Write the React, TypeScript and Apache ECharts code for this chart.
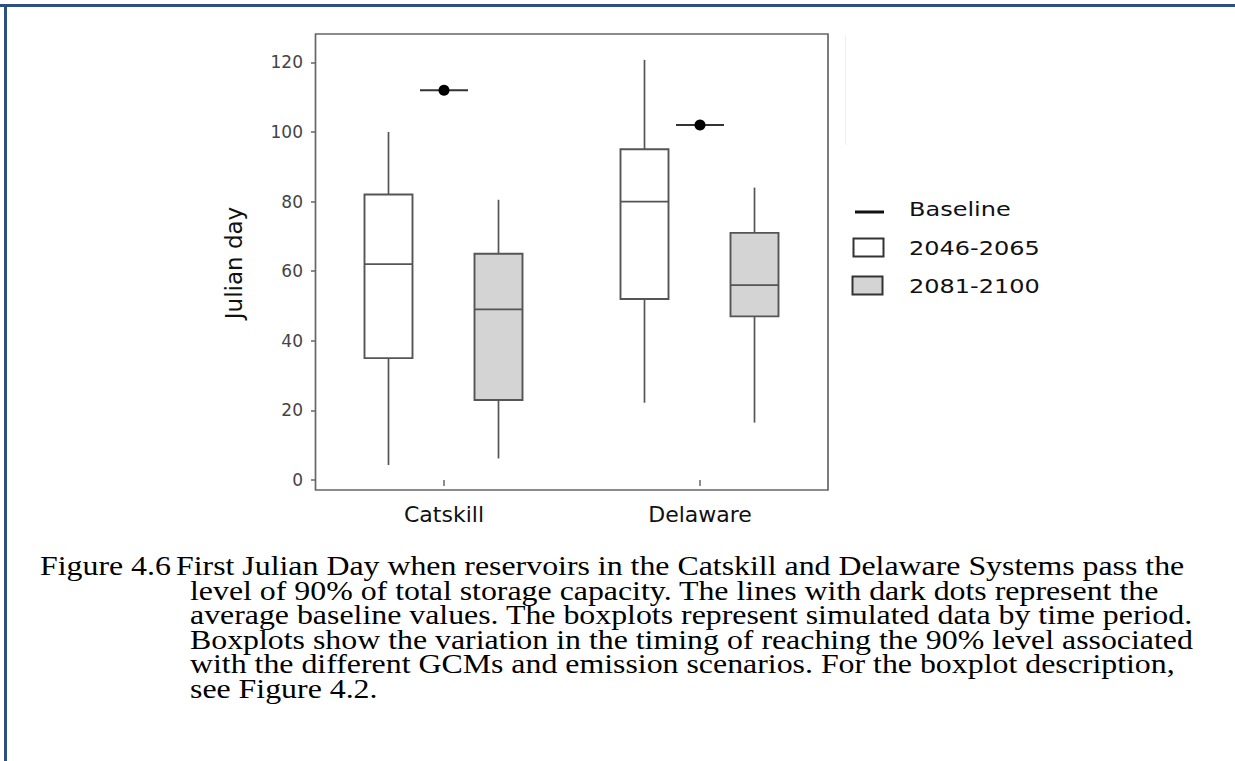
import React, { useEffect, useRef } from "react";
import * as echarts from "echarts";

const categories = ["Catskill", "Delaware"];
const yMin = 0;
const yMax = 120;
const yInterval = 20;
// [min, Q1, median, Q3, max]
const box2046 = [
  [4.3, 35, 62, 82, 100],
  [22.2, 52, 80, 95, 120.7],
];
const box2081 = [
  [6.2, 23, 49, 65, 80.5],
  [16.5, 47, 56, 71, 84],
];
const baselineValues = [112, 102];
const legendNames = ["Baseline", "2046-2065", "2081-2100"];
const yAxisTitle = "Julian day";
const captionLabel = "Figure 4.6";
const captionLines = [
  "First Julian Day when reservoirs in the Catskill and Delaware Systems pass the",
  "level of 90% of total storage capacity. The lines with dark dots represent the",
  "average baseline values. The boxplots represent simulated data by time period.",
  "Boxplots show the variation in the timing of reaching the 90% level associated",
  "with the different GCMs and emission scenarios. For the boxplot description,",
  "see Figure 4.2.",
];

const BOX_STROKE = "#555";
const GRAY_FILL = "#d4d4d4";

function makeBoxRender(offset: number, fill: string) {
  return (_params: any, api: any) => {
    const c = api.value(0);
    const x = api.coord([c, 0])[0] + offset;
    const ys = [1, 2, 3, 4, 5].map((i) => api.coord([c, api.value(i)])[1]);
    const [yLo, yQ1, yMed, yQ3, yHi] = ys;
    const hw = 24;
    const ls = { stroke: BOX_STROKE, lineWidth: 1.7 };
    return {
      type: "group",
      children: [
        { type: "line", shape: { x1: x, y1: yHi, x2: x, y2: yQ3 }, style: ls },
        { type: "line", shape: { x1: x, y1: yQ1, x2: x, y2: yLo }, style: ls },
        {
          type: "rect",
          shape: { x: x - hw, y: yQ3, width: 2 * hw, height: yQ1 - yQ3 },
          style: { fill, stroke: BOX_STROKE, lineWidth: 1.9 },
        },
        { type: "line", shape: { x1: x - hw, y1: yMed, x2: x + hw, y2: yMed }, style: ls },
      ],
    };
  };
}

function baselineRender(_params: any, api: any) {
  const c = api.value(0);
  const [x, y] = api.coord([c, api.value(1)]);
  return {
    type: "group",
    children: [
      { type: "line", shape: { x1: x - 24, y1: y, x2: x + 24, y2: y }, style: { stroke: "#333", lineWidth: 2 } },
      { type: "circle", shape: { cx: x, cy: y, r: 5.5 }, style: { fill: "#000" } },
    ],
  };
}

export default function App() {
  const ref = useRef<HTMLDivElement>(null);
  useEffect(() => {
    if (!ref.current) return;
    const chart = echarts.init(ref.current, undefined, { renderer: "svg" });
    const legendFont = { fontFamily: "DejaVu Sans", fontSize: 20, fill: "#111" };
    const captionFont = { fontFamily: "Liberation Serif", fontSize: 27, fill: "#000" };
    const graphics: any[] = [
      // page border
      { type: "rect", shape: { x: 0, y: 4, width: 1235, height: 3 }, style: { fill: "#2c5082" } },
      { type: "rect", shape: { x: 4, y: 4, width: 3, height: 757 }, style: { fill: "#2c5082" } },
      // plot frame
      {
        type: "rect",
        shape: { x: 315.5, y: 34, width: 512.5, height: 456 },
        style: { fill: "none", stroke: "#666", lineWidth: 1.7 },
        z: 10,
      },
      { type: "line", shape: { x1: 845.5, y1: 35, x2: 845.5, y2: 145 }, style: { stroke: "#eee", lineWidth: 1 } },
      // y axis title
      {
        type: "text",
        x: 234,
        y: 263,
        rotation: Math.PI / 2,
        style: {
          text: yAxisTitle,
          fontFamily: "DejaVu Sans",
          fontSize: 23,
          fill: "#111",
          align: "center",
          verticalAlign: "middle",
        },
      },
      // legend
      { type: "line", shape: { x1: 855, y1: 212, x2: 884, y2: 212 }, style: { stroke: "#111", lineWidth: 3 } },
      {
        type: "rect",
        shape: { x: 853.5, y: 238.5, width: 30, height: 18 },
        style: { fill: "#fff", stroke: "#333", lineWidth: 2 },
      },
      {
        type: "rect",
        shape: { x: 852.5, y: 276.5, width: 30, height: 18 },
        style: { fill: GRAY_FILL, stroke: "#333", lineWidth: 2 },
      },
      ...legendNames.map((n, i) => ({
        type: "text",
        x: 909,
        y: [209, 248, 286][i],
        scaleX: 1.2,
        style: { ...legendFont, text: n, align: "left", verticalAlign: "middle" },
      })),
      // caption
      {
        type: "text",
        x: 40,
        y: 566,
        scaleX: 1.18,
        style: { ...captionFont, text: captionLabel, align: "left", verticalAlign: "middle" },
      },
      ...captionLines.map((t, i) => ({
        type: "text",
        x: i === 0 ? 176 : 190,
        y: 566 + i * 24.5,
        scaleX: 1.18,
        style: { ...captionFont, text: t, align: "left", verticalAlign: "middle" },
      })),
    ];

    chart.setOption({
      animation: false,
      grid: { left: 316, right: 407, top: 62.3, bottom: 281 },
      xAxis: {
        type: "category",
        data: categories,
        boundaryGap: true,
        offset: 10,
        axisLine: { show: false },
        axisTick: { show: true, alignWithLabel: true, length: 6, lineStyle: { color: "#666", width: 1.5 } },
        axisLabel: { margin: 13, fontFamily: "DejaVu Sans", fontSize: 22, color: "#111" },
        splitLine: { show: false },
      },
      yAxis: {
        type: "value",
        min: yMin,
        max: yMax,
        interval: yInterval,
        axisLine: { show: false },
        axisTick: { show: true, length: 5, lineStyle: { color: "#666", width: 1.5 } },
        axisLabel: { margin: 13, fontFamily: "DejaVu Sans", fontSize: 17, color: "#444" },
        splitLine: { show: false },
      },
      series: [
        {
          type: "custom",
          name: legendNames[1],
          renderItem: makeBoxRender(-55.5, "#fff"),
          data: box2046.map((d, i) => [i, ...d]),
          encode: { x: 0, y: [1, 2, 3, 4, 5] },
        },
        {
          type: "custom",
          name: legendNames[2],
          renderItem: makeBoxRender(54.5, GRAY_FILL),
          data: box2081.map((d, i) => [i, ...d]),
          encode: { x: 0, y: [1, 2, 3, 4, 5] },
        },
        {
          type: "custom",
          name: legendNames[0],
          renderItem: baselineRender,
          data: baselineValues.map((v, i) => [i, v]),
          encode: { x: 0, y: 1 },
        },
      ],
      graphic: graphics,
    });
    return () => chart.dispose();
  }, []);
  return (
    <div
      ref={ref}
      style={{ position: "absolute", left: 0, top: 0, width: 1235, height: 761, background: "#fff" }}
    />
  );
}
